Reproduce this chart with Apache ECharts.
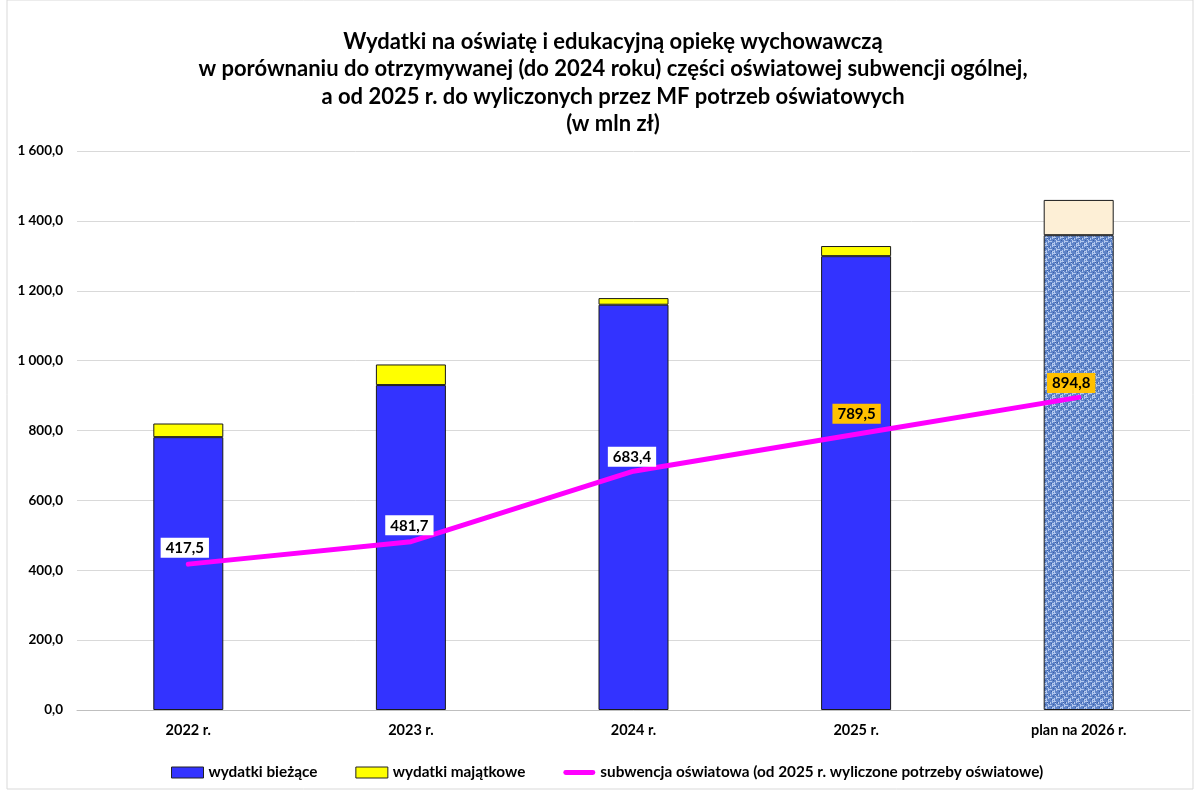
<!DOCTYPE html>
<html>
<head>
<meta charset="utf-8">
<script src="https://cdn.jsdelivr.net/npm/echarts@6/dist/echarts.min.js"></script>
<style>
html, body { margin: 0; padding: 0; background: #fff; }
#chart { width: 1195px; height: 790px; }
</style>
</head>
<body>
<div id="chart"></div>
<script>
// dane (mln zł)
var lata = ['2022 r.', '2023 r.', '2024 r.', '2025 r.', 'plan na 2026 r.'];
var wydatkiBiezace = [781, 930, 1160, 1299, 1359];
var wydatkiMajatkowe = [39, 59, 19, 29, 101];
var subwencja = [417.5, 481.7, 683.4, 789.5, 894.8];
var osY = [0, 200, 400, 600, 800, 1000, 1200, 1400, 1600];

var FONT = 'Lato, "Open Sans", sans-serif';

// tekstura dla slupka planu na 2026
function makeTexture() {
    var c = document.createElement('canvas');
    c.width = 8;
    c.height = 8;
    var ctx = c.getContext('2d');
    ctx.fillStyle = '#5f84c8';
    ctx.fillRect(0, 0, 8, 8);
    ctx.fillStyle = '#b3c8ee';
    for (var i = 0; i < 8; i += 2) {
        ctx.fillRect(i, (i * 3) % 8, 1, 3);
        ctx.fillRect((i * 5 + 1) % 8, i + 1, 3, 1);
    }
    ctx.fillStyle = '#3a5ea6';
    ctx.fillRect(3, 3, 1, 1);
    ctx.fillRect(7, 6, 1, 1);
    ctx.fillRect(1, 6, 1, 1);
    ctx.fillRect(5, 0, 1, 1);
    return c;
}

function fmt(v) {
    var s = v.toFixed(1).replace('.', ',');
    var parts = s.split(',');
    parts[0] = parts[0].replace(/\B(?=(\d{3})+(?!\d))/g, ' ');
    return parts.join(',');
}

var tex = makeTexture();

var biezaceData = wydatkiBiezace.map(function (v, i) {
    if (i == lata.length - 1) {
        return { value: v, itemStyle: { color: { image: tex, repeat: 'repeat' } } };
    }
    return v;
});
var majatkoweData = wydatkiMajatkowe.map(function (v, i) {
    if (i == lata.length - 1) {
        return { value: v, itemStyle: { color: '#fdefd6' } };
    }
    return v;
});

// etykiety linii: pierwsze trzy biale, od 2025 pomaranczowe
var labelShift = [[-3, -6], [-1, -6], [-1, -4], [1, -10], [-7, -4]];
var linData = subwencja.map(function (v, i) {
    var orange = i >= 3;
    return {
        value: v,
        label: {
            backgroundColor: orange ? '#ffc000' : '#ffffff',
            position: labelShift[i],
            align: 'center',
            verticalAlign: 'bottom'
        }
    };
});

var chart = echarts.init(document.getElementById('chart'));

var option = {
    animation: false,
    textStyle: { fontFamily: FONT },
    title: {
        text: 'Wydatki na oświatę i edukacyjną opiekę wychowawczą\n' +
            'w porównaniu do otrzymywanej (do 2024 roku) części oświatowej subwencji ogólnej,\n' +
            'a od 2025 r. do wyliczonych przez MF potrzeb oświatowych\n' +
            '(w mln zł)',
        left: 613,
        textAlign: 'center',
        top: 28,
        padding: 0,
        textStyle: {
            fontFamily: FONT,
            fontSize: 22,
            fontWeight: 'bold',
            color: '#000',
            lineHeight: 27.5
        }
    },
    legend: {
        bottom: 5,
        left: 166,
        itemWidth: 32,
        itemHeight: 11,
        itemGap: 38,
        textStyle: { fontFamily: FONT, fontSize: 15.3, fontWeight: 'bold', color: '#000' },
        data: [
            { name: 'wydatki bieżące', icon: 'rect', itemStyle: { color: '#3333ff', borderColor: '#222', borderWidth: 1 } },
            { name: 'wydatki majątkowe', icon: 'rect', itemStyle: { color: '#ffff00', borderColor: '#222', borderWidth: 1 } },
            {
                name: 'subwencja oświatowa (od 2025 r. wyliczone potrzeby oświatowe)',
                icon: 'path://M3,0 H37 A3,3 0 0 1 37,6 H3 A3,3 0 0 1 3,0 Z',
                itemStyle: { color: '#ff00ff', opacity: 1, borderWidth: 0 }
            }
        ]
    },
    grid: { left: 77, right: 5, top: 151, bottom: 80 },
    xAxis: {
        type: 'category',
        data: lata,
        axisTick: { show: false },
        axisLine: { lineStyle: { color: '#bfbfbf' } },
        axisLabel: { fontFamily: FONT, fontSize: 14.5, fontWeight: 'bold', color: '#000', margin: 13 }
    },
    yAxis: {
        type: 'value',
        min: osY[0],
        max: osY[osY.length - 1],
        interval: osY[1] - osY[0],
        axisLine: { show: false },
        axisTick: { show: false },
        splitLine: { lineStyle: { color: '#d9d9d9' } },
        axisLabel: {
            fontFamily: FONT, fontSize: 13.5, fontWeight: 'bold', color: '#000', margin: 14,
            formatter: function (v) { return fmt(v); }
        }
    },
    series: [
        {
            name: 'wydatki bieżące',
            type: 'bar',
            stack: 'w',
            barWidth: 70,
            itemStyle: { color: '#3333ff', borderColor: '#1a1a1a', borderWidth: 1 },
            data: biezaceData
        },
        {
            name: 'wydatki majątkowe',
            type: 'bar',
            stack: 'w',
            barWidth: 70,
            itemStyle: { color: '#ffff00', borderColor: '#1a1a1a', borderWidth: 1 },
            data: majatkoweData
        },
        {
            name: 'subwencja oświatowa (od 2025 r. wyliczone potrzeby oświatowe)',
            type: 'line',
            showSymbol: true,
            symbol: 'circle',
            symbolSize: 1,
            lineStyle: { color: '#ff00ff', width: 5, cap: 'round' },
            itemStyle: { color: 'rgba(255,0,255,0)' },
            z: 5,
            label: {
                show: true,
                fontFamily: FONT,
                fontSize: 15,
                fontWeight: 'bold',
                color: '#000',
                padding: [3, 5, 2, 5],
                formatter: function (p) { return fmt(p.value); }
            },
            labelLayout: { hideOverlap: false },
            data: linData
        }
    ],
    graphic: [
        {
            type: 'rect',
            shape: { x: 7, y: 0, width: 1186, height: 789 },
            style: { fill: 'none', stroke: '#d9d9d9', lineWidth: 1 },
            silent: true
        }
    ]
};

chart.setOption(option);
</script>
</body>
</html>
